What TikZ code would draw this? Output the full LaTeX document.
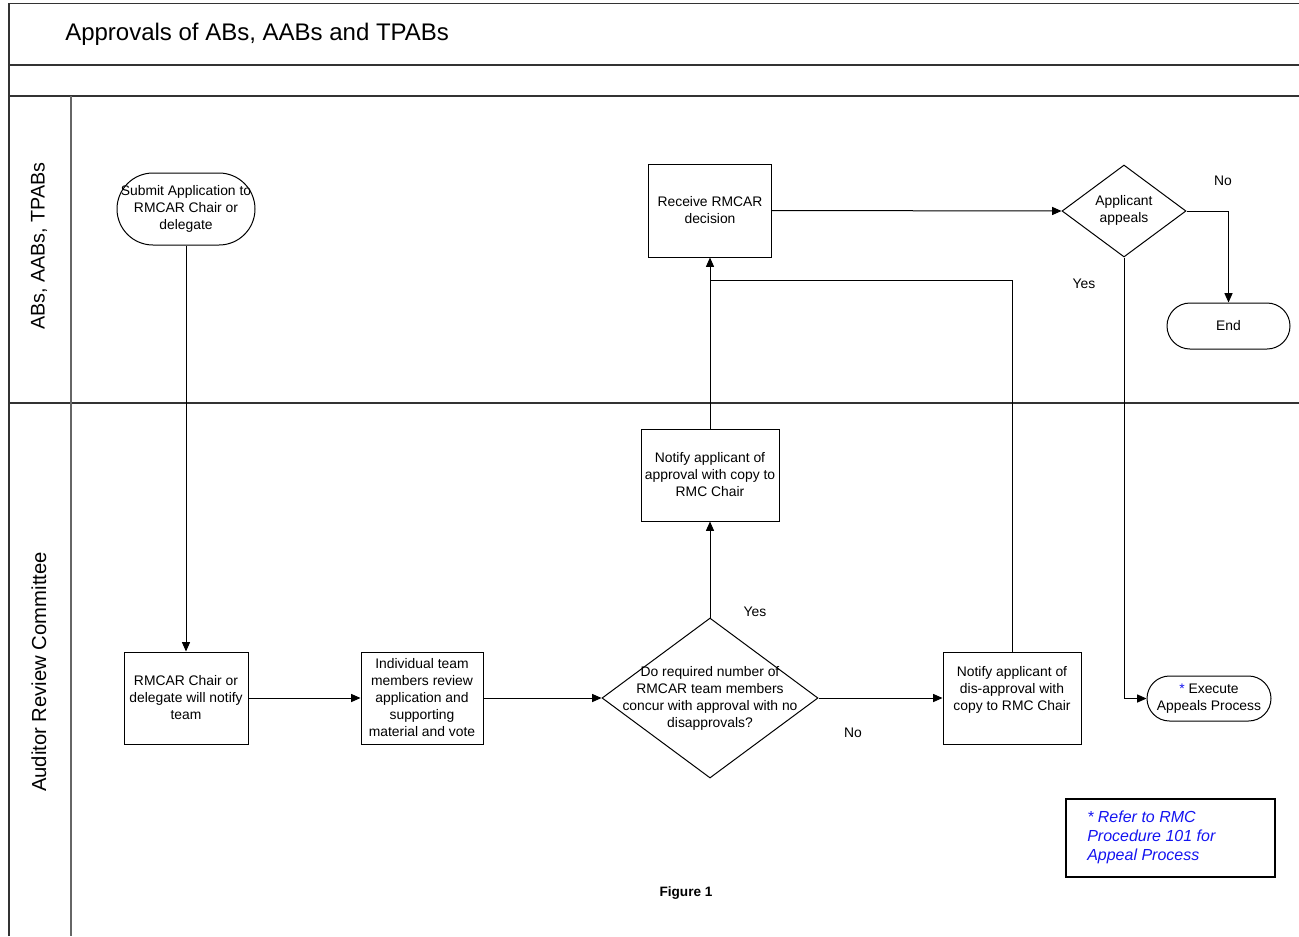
\documentclass[tikz,border=0pt]{standalone}
\usepackage{fontspec}
\setmainfont{Liberation Sans}
\usetikzlibrary{shapes.geometric,arrows.meta}
\definecolor{noteblue}{RGB}{20,20,240}
\tikzset{
  base/.style={font=\fontsize{10.4}{12.75}\selectfont, align=center, inner sep=0pt},
  procbox/.style={base, draw, line width=0.75pt, rectangle},
  termbox/.style={base, draw, line width=0.75pt, rectangle, rounded corners=#1},
  dia/.style={draw, line width=0.75pt, diamond, inner sep=0pt},
  lbl/.style={base},
  conn/.style={line width=0.75pt, -{Triangle[length=7pt,width=6pt]}},
  plain/.style={line width=0.75pt},
  frame/.style={line width=1.1pt, draw=black!80},
}
\begin{document}
\begin{tikzpicture}[x=0.75pt,y=-0.75pt]
\useasboundingbox (0,0) rectangle (1299,936);
% frame
\draw[frame] (9,936) -- (9,3.5) -- (1299,3.5);
\draw[frame] (9,65) -- (1299,65);
\draw[frame] (9,96) -- (1299,96);
\draw[frame] (9,403) -- (1299,403);
\draw[line width=0.9pt, draw=black!60] (71,96) -- (71,936);
\node[anchor=west, inner sep=0pt, font=\fontsize{18}{21}\selectfont] (title) at (65,34) {Approvals of ABs, AABs and TPABs};
\node[rotate=90, inner sep=0pt, font=\fontsize{14.8}{17}\selectfont] (lane1) at (39,246) {ABs, AABs, TPABs};
\node[rotate=90, inner sep=0pt, font=\fontsize{15.2}{17}\selectfont] (lane2) at (39,672) {Auditor Review Committee};

% nodes
\node[termbox=27pt, minimum width=103.5pt, minimum height=54pt] (submit) at (186,209) {Submit Application to\\RMCAR Chair or\\delegate};
\node[procbox, minimum width=92.25pt, minimum height=69.75pt] (receive) at (710,210.5) {Receive RMCAR\\decision};
\node[dia, minimum width=93pt, minimum height=69pt] (appeal) at (1124,211) {};
\node[lbl] (appealtext) at (1124,210) {Applicant\\appeals};
\node[termbox=17.25pt, minimum width=92.25pt, minimum height=34.5pt] (endn) at (1228.5,326) {End};
\node[procbox, minimum width=103.5pt, minimum height=69pt] (notap) at (710,475) {Notify applicant of\\approval with copy to\\RMC Chair};
\node[procbox, minimum width=93pt, minimum height=69pt] (chair) at (186,698) {RMCAR Chair or\\delegate will notify\\team};
\node[procbox, minimum width=91.5pt, minimum height=69pt] (indiv) at (422,698) {Individual team\\members review\\application and\\supporting\\material and vote};
\node[dia, minimum width=162pt, minimum height=120pt] (dec) at (710,698) {};
\node[lbl] (dectext) at (710,698) {Do required number of\\RMCAR team members\\concur with approval with no\\disapprovals?};
\node[procbox, minimum width=103.5pt, minimum height=69pt] (notdis) at (1012,698) {};
\node[lbl] (notdistext) at (1012,690) {Notify applicant of\\dis-approval with\\copy to RMC Chair};
\node[termbox=16.9pt, minimum width=93pt, minimum height=33.75pt] (exec) at (1209,698.5) {\textcolor{noteblue}{*} Execute\\Appeals Process};
\node[draw, line width=0.9pt, minimum width=156.75pt, minimum height=58.5pt, inner sep=0pt] (note) at (1170.5,838) {};
\node[anchor=west, align=left, inner sep=0pt, text=noteblue, font=\fontsize{12}{14.3}\selectfont\itshape] (notetext) at (1087,837) {* Refer to RMC\\Procedure 101 for\\Appeal Process};
\node[inner sep=0pt, font=\fontsize{10.2}{12}\selectfont\bfseries] (fig) at (686,893) {Figure 1};

% labels
\node[lbl] (yes1) at (755,612) {Yes};
\node[lbl] (no1) at (853,733) {No};
\node[lbl] (no2) at (1223,181) {No};
\node[lbl] (yes2) at (1084,284) {Yes};

% connectors
\coordinate (jn) at (710,280);
\coordinate (ebend) at (1228.5,211);
\coordinate (xbend) at (1124,698.5);
\draw[conn] (submit.south) -- (chair.north);
\draw[conn] (chair.east) -- (indiv.west);
\draw[conn] (indiv.east) -- (dec.west);
\draw[conn] (dec.north) -- (notap.south);
\draw[conn] (notap.north) -- (receive.south);
\draw[conn] (dec.east) -- (notdis.west);
\draw[plain] (notdis.north) |- (jn);
\draw[conn] (receive.east) -- (appeal.west);
\draw[conn] (appeal.east) -- (ebend) -- (endn.north);
\draw[conn] (appeal.south) -- (xbend) -- (exec.west);
\end{tikzpicture}
\end{document}
